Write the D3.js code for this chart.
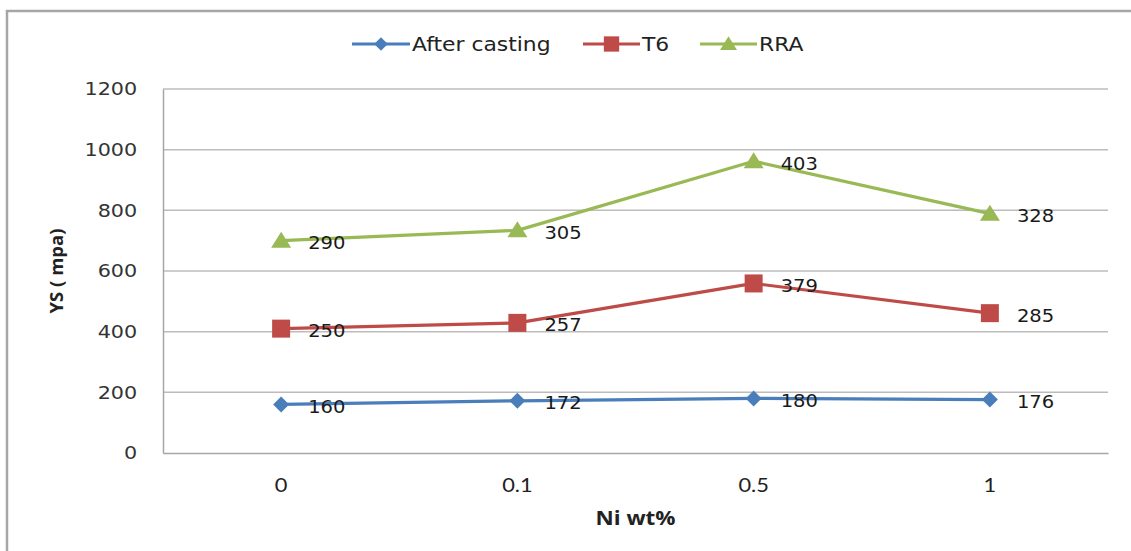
<!DOCTYPE html>
<html>
<head>
<meta charset="utf-8">
<script src="https://cdn.jsdelivr.net/npm/d3@7"></script>
<style>
  html, body { margin: 0; padding: 0; background: #fff; }
  svg { display: block; }
</style>
</head>
<body>
<svg id="chart" width="1131" height="551"></svg>
<script>
// Yield strength by Ni content for three heat-treatment states (stacked lines)
const categories = ["0", "0.1", "0.5", "1"];
const seriesNames = ["After casting", "T6", "RRA"];
const afterCasting = [160, 172, 180, 176];
const t6 = [250, 257, 379, 285];
const rra = [290, 305, 403, 328];
const yTicks = [0, 200, 400, 600, 800, 1000, 1200];
const colors = ["#4a7ebb", "#be4b48", "#98b954"];
const markers = ["diamond", "square", "triangle"];

const rows = categories.map((c, i) => ({
  cat: c,
  "After casting": afterCasting[i],
  "T6": t6[i],
  "RRA": rra[i]
}));
const stacked = d3.stack().keys(seriesNames)(rows);

const svg = d3.select("#chart");
const W = 1131, H = 551;
const margin = { top: 89, right: 23, bottom: 98, left: 163 };
const innerW = W - margin.left - margin.right;
const innerH = H - margin.top - margin.bottom;
const SX = 1.15; // horizontal widening applied to text

// outer chart frame
svg.append("path")
  .attr("d", `M7,${H} L7,11 L${W},11`)
  .attr("fill", "none")
  .attr("stroke", "#a6a6a6")
  .attr("stroke-width", 2.5);

const g = svg.append("g").attr("transform", `translate(${margin.left},${margin.top})`);

const x = d3.scaleBand().domain(categories).range([0, innerW]);
const y = d3.scaleLinear().domain([0, 1200]).range([innerH, 0]);

// horizontal gridlines
g.append("g")
  .selectAll("line")
  .data(yTicks.filter(t => t > 0))
  .join("line")
  .attr("x1", 0).attr("x2", innerW)
  .attr("y1", d => y(d)).attr("y2", d => y(d))
  .attr("stroke", "#bcbcbc")
  .attr("stroke-width", 1.5);

// y axis
const yAxis = g.append("g")
  .call(d3.axisLeft(y).tickValues(yTicks).tickFormat(d3.format("d")).tickSize(0).tickPadding(22.5));
yAxis.select(".domain").attr("stroke", "#a6a6a6").attr("stroke-width", 1.5);
yAxis.selectAll("text")
  .attr("transform", `scale(${SX},1)`)
  .attr("font-family", "'DejaVu Sans', Verdana, sans-serif")
  .attr("font-size", 18)
  .attr("fill", "#333");

// x axis
const xAxis = g.append("g")
  .attr("transform", `translate(0,${innerH})`)
  .call(d3.axisBottom(x).tickSize(0).tickPadding(26));
xAxis.select(".domain").attr("stroke", "#a6a6a6").attr("stroke-width", 1.5);
xAxis.selectAll("text")
  .attr("transform", `scale(${SX},1)`)
  .attr("font-family", "Lato, 'Open Sans', sans-serif")
  .attr("font-size", 19)
  .attr("fill", "#222");

// axis titles
svg.append("text")
  .attr("transform", `translate(63,${margin.top + innerH / 2 + 0}) rotate(-90)`)
  .attr("text-anchor", "middle")
  .attr("font-family", "'Open Sans', Lato, sans-serif")
  .attr("font-weight", "bold")
  .attr("font-size", 18.5)
  .attr("fill", "#222")
  .text("YS ( mpa)");

svg.append("text")
  .attr("transform", `translate(${margin.left + innerW / 2},525) scale(${SX},1)`)
  .attr("text-anchor", "middle")
  .attr("font-family", "'Open Sans', Lato, sans-serif")
  .attr("font-weight", "bold")
  .attr("font-size", 19.5)
  .attr("fill", "#222")
  .text("Ni wt%");

const cx = c => x(c) + x.bandwidth() / 2;

function markerPath(type) {
  if (type === "diamond") return "M0,-8 L8,0 L0,8 L-8,0 Z";
  if (type === "square") return "M-9,-9 L9,-9 L9,9 L-9,9 Z";
  return "M0,-9 L10,7 L-10,7 Z";
}

const line = d3.line()
  .x(d => cx(d.data.cat))
  .y(d => y(d[1]));

stacked.forEach((s, si) => {
  const sg = g.append("g");
  sg.append("path")
    .datum(s)
    .attr("d", line)
    .attr("fill", "none")
    .attr("stroke", colors[si])
    .attr("stroke-width", 3.2)
    .attr("stroke-linejoin", "round");
  sg.selectAll("path.mk")
    .data(s)
    .join("path")
    .attr("class", "mk")
    .attr("transform", d => `translate(${cx(d.data.cat)},${y(d[1])})`)
    .attr("d", markerPath(markers[si]))
    .attr("fill", colors[si]);
  sg.selectAll("text")
    .data(s)
    .join("text")
    .attr("transform", d => `translate(${cx(d.data.cat) + 27},${y(d[1]) + 8.5}) scale(${SX},1)`)
    .attr("font-family", "'DejaVu Sans', Verdana, sans-serif")
    .attr("font-size", 17)
    .attr("fill", "#1a1a1a")
    .text(d => d.data[s.key]);
});

// legend
const legendItems = [
  { x: 352, w: 58 },
  { x: 583, w: 57 },
  { x: 700, w: 57 }
];
const lg = svg.append("g");
seriesNames.forEach((name, i) => {
  const it = legendItems[i];
  const ly = 44;
  lg.append("line")
    .attr("x1", it.x).attr("x2", it.x + it.w)
    .attr("y1", ly).attr("y2", ly)
    .attr("stroke", colors[i])
    .attr("stroke-width", 3.2);
  lg.append("path")
    .attr("transform", `translate(${it.x + it.w / 2},${ly}) scale(0.85)`)
    .attr("d", markerPath(markers[i]))
    .attr("fill", colors[i]);
  lg.append("text")
    .attr("transform", `translate(${it.x + it.w + 2},${ly + 7}) scale(${SX},1)`)
    .attr("font-family", "'DejaVu Sans', Verdana, sans-serif")
    .attr("font-size", 19)
    .attr("fill", "#222")
    .text(name);
});
</script>
</body>
</html>
